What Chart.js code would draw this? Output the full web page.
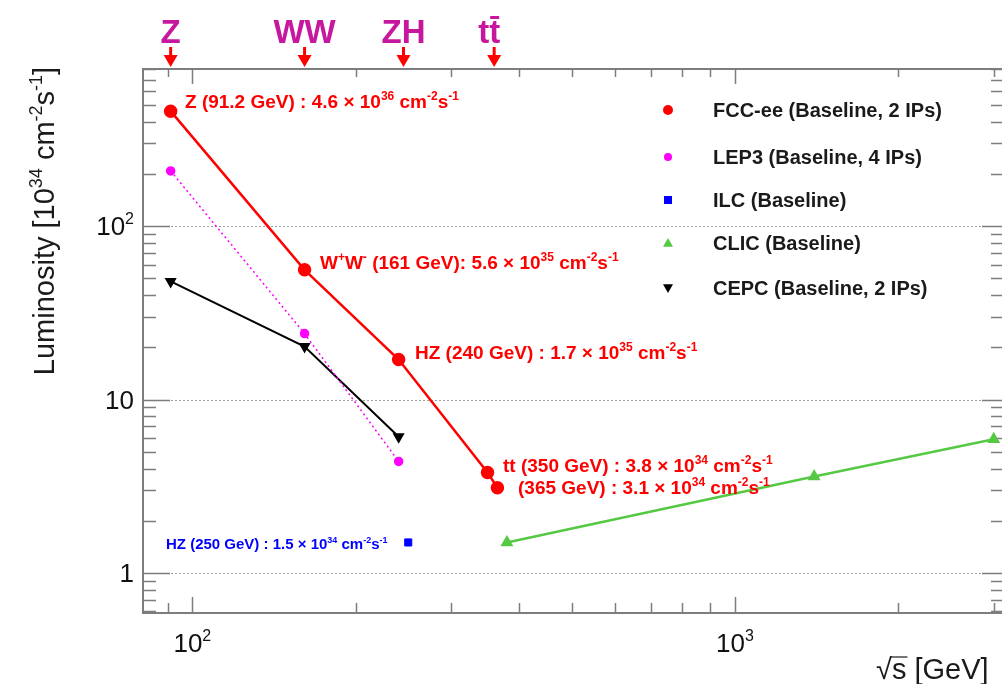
<!DOCTYPE html>
<html>
<head>
<meta charset="utf-8">
<script src="https://cdn.jsdelivr.net/npm/chart.js@4.4.1/dist/chart.umd.min.js"></script>
<style>
  html, body { margin: 0; padding: 0; background: #fff; }
  canvas { display: block; }
</style>
</head>
<body>
<canvas id="lumiChart" width="1002" height="684"></canvas>
<script>
// centre-of-mass energies [GeV] and luminosities [1e34 cm^-2 s^-1]
const fccEnergy = [91.2, 161, 240, 350, 365];
const fccLumi = [460, 56, 17, 3.8, 3.1];
const lep3Energy = [91.2, 161, 240];
const lep3Lumi = [208, 24, 4.4];
const ilcEnergy = [250];
const ilcLumi = [1.5];
const clicEnergy = [380, 1400, 3000];
const clicLumi = [1.5, 3.6, 5.9];
const cepcEnergy = [91.2, 161, 240];
const cepcLumi = [48, 20.2, 6.1];

// physics runs marked above the frame
const runEnergy = [91.2, 161, 245, 360];
const runLabels = ['Z', 'WW', 'ZH', 'tt'];

// axis labels
const xTickValues = [100, 1000];
const xTickLabels = ['10^{2}', '10^{3}'];
const yTickValues = [1, 10, 100];
const yTickLabels = ['1', '10', '10^{2}'];

const FONT = '"Liberation Sans", Arial, Helvetica, sans-serif';

function toPoints(xs, ys) {
    return xs.map((x, i) => ({ x: x, y: ys[i] }));
}

// text with ^{...} superscripts, returns width
function richText(ctx, str, x, y, size, weight, align) {
    const runs = [];
    const re = /\^\{([^}]*)\}/g;
    let last = 0, m;
    while ((m = re.exec(str)) !== null) {
        if (m.index > last) runs.push([str.slice(last, m.index), false]);
        runs.push([m[1], true]);
        last = re.lastIndex;
    }
    if (last < str.length) runs.push([str.slice(last), false]);

    const fontN = weight + ' ' + size + 'px ' + FONT;
    const fontS = weight + ' ' + Math.round(size * 0.62) + 'px ' + FONT;
    let w = 0;
    runs.forEach(r => {
        ctx.font = r[1] ? fontS : fontN;
        w += ctx.measureText(r[0]).width;
    });
    let cx = x;
    if (align === 'center') cx = x - w / 2;
    if (align === 'right') cx = x - w;
    ctx.textAlign = 'left';
    ctx.textBaseline = 'alphabetic';
    runs.forEach(r => {
        ctx.font = r[1] ? fontS : fontN;
        ctx.fillText(r[0], cx, r[1] ? y - size * 0.42 : y);
        cx += ctx.measureText(r[0]).width;
    });
    return w;
}

// value annotations next to the points
const notes = [
    { text: 'Z (91.2 GeV) : 4.6 × 10^{36} cm^{-2}s^{-1}', x: 185, y: 108, color: '#ff0000', size: 19 },
    { text: 'W^{+}W^{-} (161 GeV): 5.6 × 10^{35} cm^{-2}s^{-1}', x: 320, y: 269, color: '#ff0000', size: 19 },
    { text: 'HZ (240 GeV) : 1.7 × 10^{35} cm^{-2}s^{-1}', x: 415, y: 359, color: '#ff0000', size: 19 },
    { text: 'tt (350 GeV) : 3.8 × 10^{34} cm^{-2}s^{-1}', x: 503, y: 472, color: '#ff0000', size: 19 },
    { text: '(365 GeV) : 3.1 × 10^{34} cm^{-2}s^{-1}', x: 518, y: 494, color: '#ff0000', size: 19 },
    { text: 'HZ (250 GeV) : 1.5 × 10^{34} cm^{-2}s^{-1}', x: 166, y: 549, color: '#0000ff', size: 15 }
];

function drawMarker(ctx, style, x, y, r, color) {
    ctx.fillStyle = color;
    ctx.beginPath();
    if (style === 'circle') {
        ctx.arc(x, y, r, 0, Math.PI * 2);
    } else if (style === 'rect') {
        ctx.rect(x - r, y - r, 2 * r, 2 * r);
    } else if (style === 'triangle') {
        ctx.moveTo(x, y - r);
        ctx.lineTo(x + r, y + r * 0.75);
        ctx.lineTo(x - r, y + r * 0.75);
    } else if (style === 'down') {
        ctx.moveTo(x, y + r);
        ctx.lineTo(x + r, y - r * 0.75);
        ctx.lineTo(x - r, y - r * 0.75);
    }
    ctx.closePath();
    ctx.fill();
}

// frame, inward ticks, dotted grid
const framePlugin = {
    id: 'frame',
    beforeDatasetsDraw(chart) {
        const ctx = chart.ctx;
        const a = chart.chartArea;
        const xs = chart.scales.x, ys = chart.scales.y;
        ctx.save();
        ctx.strokeStyle = '#a0a0a0';
        ctx.lineWidth = 1;
        ctx.setLineDash([2, 2]);
        yTickValues.forEach(v => {
            const py = Math.round(ys.getPixelForValue(v)) + 0.5;
            ctx.beginPath();
            ctx.moveTo(a.left, py);
            ctx.lineTo(a.right, py);
            ctx.stroke();
        });
        ctx.setLineDash([]);

        ctx.strokeStyle = '#7d7d7d';
        ctx.lineWidth = 1.5;
        // x ticks, bottom and top
        const xMinor = [90];
        for (let d = 100; d <= 1000; d *= 10)
            for (let k = 2; k <= 9; k++) if (k * d <= 3100) xMinor.push(k * d);
        const xTicks = xMinor.map(v => [v, false]).concat(xTickValues.map(v => [v, true]));
        xTicks.forEach(t => {
            const px = Math.round(xs.getPixelForValue(t[0])) + 0.5;
            const lenB = t[1] ? 16 : 10;
            const lenT = t[1] ? 15 : 8;
            ctx.beginPath();
            ctx.moveTo(px, a.bottom);
            ctx.lineTo(px, a.bottom - lenB);
            ctx.moveTo(px, a.top);
            ctx.lineTo(px, a.top + lenT);
            ctx.stroke();
        });
        // y ticks, left and right
        const yMinor = [0.6, 0.7, 0.8, 0.9];
        for (let d = 1; d <= 100; d *= 10)
            for (let k = 2; k <= 9; k++) if (k * d <= 800) yMinor.push(k * d);
        const yTicks = yMinor.map(v => [v, false]).concat(yTickValues.map(v => [v, true]));
        yTicks.forEach(t => {
            const py = Math.round(ys.getPixelForValue(t[0])) + 0.5;
            const len = t[1] ? 27 : 13;
            ctx.beginPath();
            ctx.moveTo(a.left, py);
            ctx.lineTo(a.left + len, py);
            ctx.moveTo(a.right, py);
            ctx.lineTo(a.right - (t[1] ? 20 : 11), py);
            ctx.stroke();
        });

        ctx.lineWidth = 2;
        ctx.beginPath();
        ctx.moveTo(a.right + 3, a.top);
        ctx.lineTo(a.left, a.top);
        ctx.lineTo(a.left, a.bottom);
        ctx.lineTo(a.right + 3, a.bottom);
        ctx.stroke();
        ctx.restore();
    },
    afterDraw(chart) {
        const ctx = chart.ctx;
        const xs = chart.scales.x, ys = chart.scales.y;
        ctx.save();

        // tick labels
        ctx.fillStyle = '#111';
        xTickValues.forEach((v, i) => {
            richText(ctx, xTickLabels[i], xs.getPixelForValue(v), 652, 26, 'normal', 'center');
        });
        yTickValues.forEach((v, i) => {
            richText(ctx, yTickLabels[i], 134, ys.getPixelForValue(v) + 9, 26, 'normal', 'right');
        });

        // axis titles
        ctx.fillStyle = '#1a1a1a';
        ctx.save();
        ctx.translate(54, 221);
        ctx.rotate(-Math.PI / 2);
        richText(ctx, 'Luminosity [10^{34} cm^{-2}s^{-1}]', 0, 0, 29, 'normal', 'center');
        ctx.restore();

        ctx.font = 'normal 29px ' + FONT;
        ctx.textAlign = 'left';
        ctx.textBaseline = 'alphabetic';
        const rootW = ctx.measureText('√').width;
        const sW = ctx.measureText('s').width;
        ctx.fillText('√', 876, 679);
        ctx.fillText('s [GeV]', 876 + rootW, 679);
        ctx.strokeStyle = '#1a1a1a';
        ctx.lineWidth = 1.2;
        ctx.beginPath();
        ctx.moveTo(876 + rootW - 1, 657);
        ctx.lineTo(876 + rootW + sW + 1, 657);
        ctx.stroke();

        // run markers over the frame
        runEnergy.forEach((e, i) => {
            const px = xs.getPixelForValue(e);
            ctx.fillStyle = '#c8179f';
            ctx.font = 'bold 33px ' + FONT;
            ctx.textAlign = 'center';
            ctx.textBaseline = 'alphabetic';
            ctx.fillText(runLabels[i], px - (i === 3 ? 5 : 0), 43);
            if (runLabels[i] === 'tt') {
                const tw = ctx.measureText('t').width;
                ctx.fillRect(px - 4, 16, tw - 2, 3);
            }
            ctx.fillStyle = '#ff0000';
            ctx.fillRect(px - 1.5, 47, 3, 9);
            ctx.beginPath();
            ctx.moveTo(px - 7, 55);
            ctx.lineTo(px + 7, 55);
            ctx.lineTo(px, 67);
            ctx.closePath();
            ctx.fill();
        });

        // legend
        const legendRows = [
            { style: 'circle', r: 5, y: 110 },
            { style: 'circle', r: 4, y: 157 },
            { style: 'rect', r: 4, y: 200 },
            { style: 'triangle', r: 5, y: 243 },
            { style: 'down', r: 5, y: 288 }
        ];
        chart.data.datasets.forEach((ds, i) => {
            const row = legendRows[i];
            drawMarker(ctx, row.style, 668, row.y, row.r, ds.pointBackgroundColor);
            ctx.fillStyle = '#1a1a1a';
            ctx.font = 'bold 20px ' + FONT;
            ctx.textAlign = 'left';
            ctx.textBaseline = 'middle';
            ctx.fillText(ds.label, 713, row.y + 1);
        });

        // value annotations
        notes.forEach(n => {
            ctx.fillStyle = n.color;
            richText(ctx, n.text, n.x, n.y, n.size, 'bold', 'left');
        });
        ctx.restore();
    }
};

const ctx = document.getElementById('lumiChart').getContext('2d');
const chart = new Chart(ctx, {
    type: 'scatter',
    data: {
        datasets: [{
            label: 'FCC-ee (Baseline, 2 IPs)',
            data: toPoints(fccEnergy, fccLumi),
            showLine: true,
            borderColor: '#ff0000',
            borderWidth: 2.5,
            pointStyle: 'circle',
            pointRadius: 5.5,
            pointBackgroundColor: '#ff0000',
            pointBorderColor: '#ff0000'
        }, {
            label: 'LEP3 (Baseline, 4 IPs)',
            data: toPoints(lep3Energy, lep3Lumi),
            showLine: true,
            borderColor: '#ff00ff',
            borderWidth: 1.5,
            borderDash: [2, 3],
            pointStyle: 'circle',
            pointRadius: 4,
            pointBackgroundColor: '#ff00ff',
            pointBorderColor: '#ff00ff'
        }, {
            label: 'ILC (Baseline)',
            data: toPoints(ilcEnergy, ilcLumi),
            showLine: false,
            pointStyle: 'rect',
            pointRadius: 5,
            pointBackgroundColor: '#0000ff',
            pointBorderColor: '#0000ff'
        }, {
            label: 'CLIC (Baseline)',
            data: toPoints(clicEnergy, clicLumi),
            showLine: true,
            borderColor: '#55c943',
            borderWidth: 2.5,
            pointStyle: 'triangle',
            pointRadius: 5,
            pointBackgroundColor: '#55c943',
            pointBorderColor: '#55c943'
        }, {
            label: 'CEPC (Baseline, 2 IPs)',
            data: toPoints(cepcEnergy, cepcLumi),
            showLine: true,
            borderColor: '#000000',
            borderWidth: 2,
            pointStyle: 'triangle',
            pointRotation: 180,
            pointRadius: 5,
            pointBackgroundColor: '#000000',
            pointBorderColor: '#000000'
        }]
    },
    options: {
        responsive: false,
        animation: false,
        layout: { autoPadding: false, padding: { top: 69, right: 0, left: 0, bottom: 0 } },
        elements: { line: { tension: 0 } },
        scales: {
            x: {
                type: 'logarithmic',
                min: 81.1,
                max: 3107,
                ticks: { display: false },
                grid: { display: false },
                border: { display: false },
                afterFit: s => { s.height = 71; }
            },
            y: {
                type: 'logarithmic',
                min: 0.588,
                max: 805,
                ticks: { display: false },
                grid: { display: false },
                border: { display: false },
                afterFit: s => { s.width = 143; }
            }
        },
        plugins: {
            legend: { display: false },
            tooltip: { enabled: false }
        }
    },
    plugins: [framePlugin]
});
</script>
</body>
</html>
